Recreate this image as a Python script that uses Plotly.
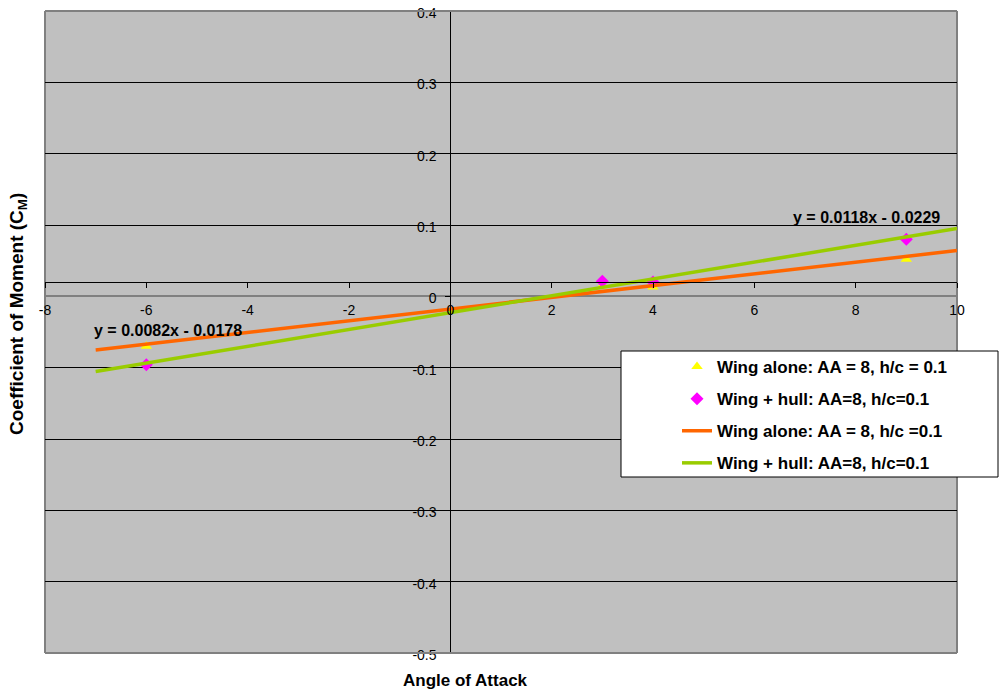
import plotly.graph_objects as go

# Measured pitching-moment coefficients against angle of attack
aoa = [-6, 3, 4, 9]
cm_wing_alone = [-0.070, 0.015, 0.013, 0.052]
cm_wing_hull = [-0.096, 0.021, 0.020, 0.080]

# Linear trendlines (slope, intercept) and the span they are drawn over
fit_wing_alone = (0.0082, -0.0178)
fit_wing_hull = (0.0118, -0.0229)
fit_span = [-7, 10]

x_tickvals = [-8, -6, -4, -2, 0, 2, 4, 6, 8, 10]
x_ticktext = ["-8", "-6", "-4", "-2", "0", "2", "4", "6", "8", "10"]
y_tickvals = [0.4, 0.3, 0.2, 0.1, 0.0, -0.1, -0.2, -0.3, -0.4, -0.5]
y_ticktext = ["0.4", "0.3", "0.2", "0.1", "0", "-0.1", "-0.2", "-0.3", "-0.4", "-0.5"]

x_range = [-8, 10]
y_range = [-0.5, 0.4]
x_axis_cross = 0.02   # value of C_M where the horizontal axis is drawn

FONT = "Liberation Sans, Arial, sans-serif"
FRAME = "#808080"

W, H = 999, 693
ML, MR, MT, MB = 45, 42, 11, 40
PW, PH = W - ML - MR, H - MT - MB


def px_to_paper(px, py):
    return (px - ML) / PW, (H - MB - py) / PH


def line_from(fit, xs):
    m, b = fit
    return [m * x + b for x in xs]


def eq_text(fit):
    m, b = fit
    sign = "-" if b < 0 else "+"
    return f"y = {m:.4f}x {sign} {abs(b):.4f}"


def frame_edge(x0, y0, x1, y1, layer):
    return dict(type="line", xref="paper", yref="paper", x0=x0, y0=y0, x1=x1, y1=y1,
                line=dict(color=FRAME, width=2), layer=layer)


fig = go.Figure()

fig.add_trace(go.Scatter(
    x=aoa, y=cm_wing_alone, mode="markers",
    name="Wing alone: AA = 8, h/c = 0.1", legendgroup="a",
    marker=dict(symbol="triangle-up", size=10, color="#FFFF00"),
))
fig.add_trace(go.Scatter(
    x=aoa, y=cm_wing_hull, mode="markers",
    name="Wing + hull: AA=8, h/c=0.1", legendgroup="b",
    marker=dict(symbol="diamond", size=10, color="#FF00FF"),
))
fig.add_trace(go.Scatter(
    x=fit_span, y=line_from(fit_wing_alone, fit_span), mode="lines",
    name="Wing alone: AA = 8, h/c =0.1", legendgroup="c",
    line=dict(color="#FF6600", width=3.5),
))
fig.add_trace(go.Scatter(
    x=fit_span, y=line_from(fit_wing_hull, fit_span), mode="lines",
    name="Wing + hull: AA=8, h/c=0.1", legendgroup="d",
    line=dict(color="#99CC00", width=3.5),
))

x_pos = (x_axis_cross - y_range[0]) / (y_range[1] - y_range[0])
y_pos = (0 - x_range[0]) / (x_range[1] - x_range[0])

leg_x, leg_y = px_to_paper(677, 349)
box_x0, box_y1 = px_to_paper(621, 351)
box_x1, box_y0 = px_to_paper(998, 477)
xt_x, xt_y = px_to_paper(465, 680)
yt_x, yt_y = px_to_paper(18, 314)

fig.update_layout(
    width=W, height=H,
    margin=dict(l=ML, r=MR, t=MT, b=MB, autoexpand=False),
    paper_bgcolor="white",
    plot_bgcolor="#C0C0C0",
    font=dict(family=FONT, size=14, color="black"),
    showlegend=True,
    legend=dict(
        x=leg_x, y=leg_y, xanchor="left", yanchor="top",
        bgcolor="rgba(0,0,0,0)", borderwidth=0,
        font=dict(family=FONT, size=17, color="black", weight="bold"),
        tracegroupgap=7, traceorder="grouped",
    ),
    xaxis=dict(
        range=x_range, anchor="free", position=x_pos, automargin=False,
        tickvals=x_tickvals, ticktext=x_ticktext,
        showline=True, linecolor="black", linewidth=1,
        ticks="outside", ticklen=5, tickcolor="black", tickwidth=1,
        ticklabelstandoff=10,
        showgrid=False, zeroline=False,
        tickfont=dict(family=FONT, size=14),
    ),
    yaxis=dict(
        range=y_range, anchor="free", position=y_pos, automargin=False,
        tickvals=y_tickvals, ticktext=y_ticktext,
        showline=True, linecolor="black", linewidth=1,
        ticks="outside", ticklen=5, tickcolor="black", tickwidth=1,
        ticklabelstandoff=6, ticklabelshift=2,
        showgrid=True, gridcolor="black", gridwidth=1,
        zeroline=True, zerolinecolor=FRAME, zerolinewidth=2,
        tickfont=dict(family=FONT, size=14),
    ),
    shapes=[
        # plot-area frame: top/bottom over the end gridlines, sides under the tick labels
        frame_edge(0, 1, 1, 1, "above"),
        frame_edge(0, 0, 1, 0, "above"),
        frame_edge(0, 0, 0, 1, "below"),
        frame_edge(1, 0, 1, 1, "below"),
        # legend box
        dict(type="rect", xref="paper", yref="paper",
             x0=box_x0, x1=box_x1, y0=box_y0, y1=box_y1,
             line=dict(color="black", width=1), fillcolor="white", layer="above"),
    ],
    annotations=[
        dict(text="Angle of Attack", xref="paper", yref="paper",
             x=xt_x, y=xt_y, showarrow=False,
             xanchor="center", yanchor="middle",
             font=dict(family=FONT, size=17, weight="bold")),
        dict(text="Coefficient of Moment (C<sub>M</sub>)", xref="paper", yref="paper",
             x=yt_x, y=yt_y, showarrow=False, textangle=-90,
             xanchor="center", yanchor="middle",
             font=dict(family=FONT, size=19, weight="bold")),
        dict(text=eq_text(fit_wing_alone), x=-5.57, y=-0.0477, showarrow=False,
             xanchor="center", yanchor="middle",
             font=dict(family=FONT, size=16, weight="bold")),
        dict(text=eq_text(fit_wing_hull), x=8.22, y=0.1108, showarrow=False,
             xanchor="center", yanchor="middle",
             font=dict(family=FONT, size=16, weight="bold")),
    ],
)

fig.write_html("out.html")
